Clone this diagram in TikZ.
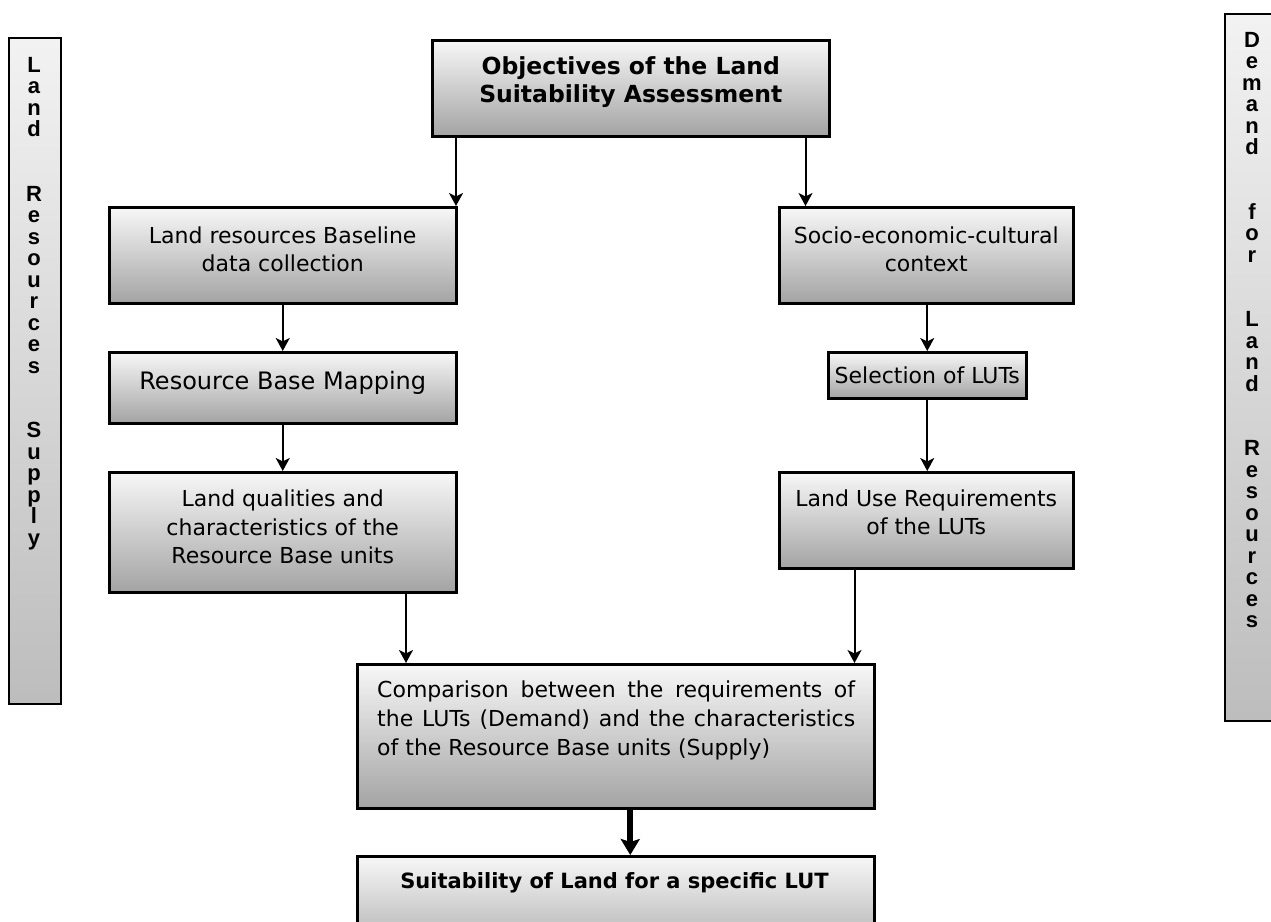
\documentclass[tikz,border=0pt]{standalone}
\usepackage{fontspec}
\setmainfont{DejaVu Sans}
\newfontfamily\barfont{Liberation Sans}
\usetikzlibrary{arrows.meta}
\begin{document}
\begin{tikzpicture}[x=1pt,y=-1pt,
  box/.style={draw=black, line width=2.5pt, top color=white!97!black, bottom color=black!36,
    inner sep=0pt, anchor=north west},
  txt/.style={inner sep=0pt, align=center, font=\fontsize{22}{28.5}\selectfont},
  bar/.style={draw=black, line width=1.6pt, top color=white!95!black, bottom color=black!26,
    inner sep=0pt, anchor=north west},
  bartext/.style={inner sep=0pt, anchor=north, align=center,
    font=\barfont\bfseries\fontsize{22}{21.5}\selectfont},
  arr/.style={line width=2pt, -{Stealth[length=13pt,width=14pt,inset=3.5pt]}},
  bigarr/.style={line width=6pt, -{Stealth[length=16pt,width=19pt,inset=3pt]}}
]
\useasboundingbox (0,0) rectangle (1271,921);
\clip (0,0) rectangle (1271,921);

% side bars
\node[bar, minimum width=52pt, minimum height=666pt] (lbar) at (8,37) {};
\node[bartext] (ltext) at (34,57) {L\\a\\n\\d\\[43pt]R\\e\\s\\o\\u\\r\\c\\e\\s\\[43pt]S\\u\\p\\p\\l\\y};
\node[bar, minimum width=64pt, minimum height=707pt] (rbar) at (1224,13) {};
\node[bartext] (rtext) at (1252,32) {D\\e\\m\\a\\n\\d\\[43pt]f\\o\\r\\[43pt]L\\a\\n\\d\\[43pt]R\\e\\s\\o\\u\\r\\c\\e\\s};

% boxes
\node[box, minimum width=397pt, minimum height=96pt] (obj) at (431,39) {};
\node[txt, font=\bfseries\fontsize{23.5}{28}\selectfont] (objt) at ([yshift=6pt]obj.center)
  {Objectives of the Land\\Suitability Assessment};
\node[box, minimum width=347pt, minimum height=96pt] (base) at (108,206) {};
\node[txt] (baset) at ([yshift=6pt]base.center) {Land resources Baseline\\data collection};
\node[box, minimum width=294pt, minimum height=96pt] (socio) at (778,206) {};
\node[txt] (sociot) at ([yshift=6pt]socio.center) {Socio-economic-cultural\\context};
\node[box, minimum width=347pt, minimum height=71pt] (rbm) at (108,351) {};
\node[txt, font=\fontsize{24}{28}\selectfont] (rbmt) at ([yshift=5pt]rbm.center) {Resource Base Mapping};
\node[box, minimum width=198pt, minimum height=46pt] (sel) at (827,351) {};
\node[txt] (selt) at (sel.center) {Selection of LUTs};
\node[box, minimum width=347pt, minimum height=120pt] (lq) at (108,471) {};
\node[txt] (lqt) at ([yshift=5pt]lq.center) {Land qualities and\\characteristics of the\\Resource Base units};
\node[box, minimum width=294pt, minimum height=96pt] (lur) at (778,471) {};
\node[txt] (lurt) at ([yshift=8pt]lur.center) {Land Use Requirements\\of the LUTs};
\node[box, minimum width=517pt, minimum height=144pt] (comp) at (356,663) {};
\node[inner sep=0pt, anchor=north west, text width=478pt, align=justify,
      font=\fontsize{22}{29}\selectfont] (compt) at (377,681)
  {Comparison between the requirements of\linebreak the LUTs (Demand) and the characteristics\linebreak of the Resource Base units (Supply)};
\node[box, minimum width=517pt, minimum height=110pt] (suit) at (356,855) {};
\node[txt, font=\bfseries\fontsize{21}{26}\selectfont] (suitt) at (614.5,883)
  {Suitability of Land for a specific LUT};

% connectors
\draw[arr] ([xshift=25pt]obj.south west) -- ([xshift=25pt]obj.south west |- base.north);
\draw[arr] ([xshift=-25pt]obj.south east) -- ([xshift=-25pt]obj.south east |- socio.north);
\draw[arr] (base.south) -- (rbm.north);
\draw[arr] (rbm.south) -- (lq.north);
\draw[arr] (sel.north |- socio.south) -- (sel.north);
\draw[arr] (sel.south) -- (sel.south |- lur.north);
\draw[arr] ([xshift=50pt]comp.north west |- lq.south) -- ([xshift=50pt]comp.north west);
\draw[arr] ([xshift=-21pt]comp.north east |- lur.south) -- ([xshift=-21pt]comp.north east);
\draw[bigarr] ([xshift=14.5pt]comp.south) -- ([xshift=14.5pt]comp.south |- suit.north);
\end{tikzpicture}
\end{document}
